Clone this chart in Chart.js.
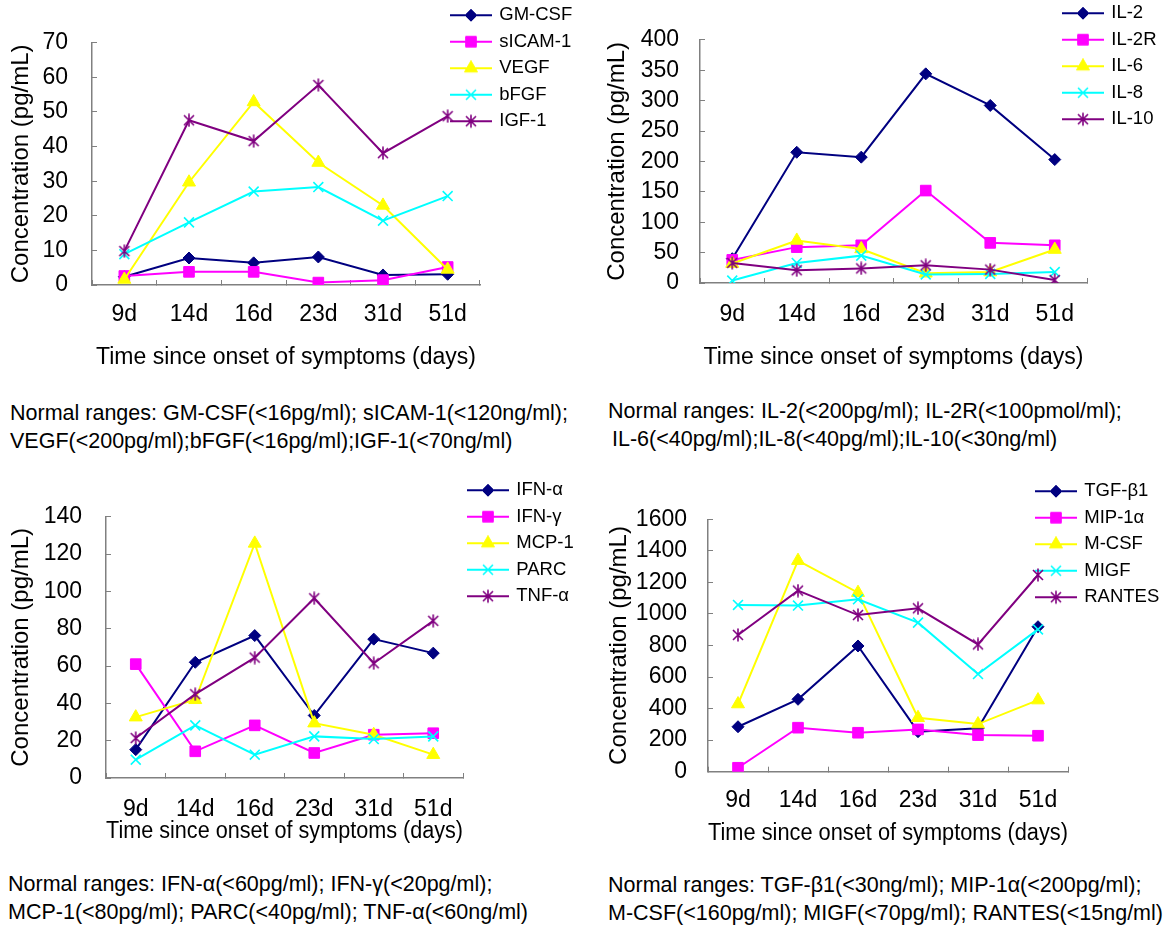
<!DOCTYPE html>
<html>
<head>
<meta charset="utf-8">
<script src="https://cdn.jsdelivr.net/npm/chart.js@4.4.0/dist/chart.umd.min.js"></script>
<style>
  body { margin: 0; background: #fff; }
  #page { position: relative; width: 1164px; height: 926px; overflow: hidden; font-family: 'Liberation Sans', Arial, sans-serif; }
  canvas { position: absolute; }
  .note { position: absolute; font-size: 21.5px; line-height: 28px; white-space: nowrap; color: #000; }
</style>
</head>
<body>
<div id="page">
  <canvas id="chart-growth" width="575" height="380" style="left:0;top:0"></canvas>
  <canvas id="chart-il" width="584" height="380" style="left:580px;top:0"></canvas>
  <canvas id="chart-ifn" width="575" height="380" style="left:0;top:470px"></canvas>
  <canvas id="chart-chemo" width="584" height="380" style="left:580px;top:470px"></canvas>

  <div class="note" style="left:10px;top:399px">Normal ranges: GM-CSF(&lt;16pg/ml); sICAM-1(&lt;120ng/ml);<br>VEGF(&lt;200pg/ml);bFGF(&lt;16pg/ml);IGF-1(&lt;70ng/ml)</div>
  <div class="note" style="left:608px;top:397px">Normal ranges: IL-2(&lt;200pg/ml); IL-2R(&lt;100pmol/ml);<br><span style="padding-left:4px">IL-6(&lt;40pg/ml);IL-8(&lt;40pg/ml);IL-10(&lt;30ng/ml)</span></div>
  <div class="note" style="left:8px;top:870px">Normal ranges: IFN-α(&lt;60pg/ml); IFN-γ(&lt;20pg/ml);<br>MCP-1(&lt;80pg/ml); PARC(&lt;40pg/ml); TNF-α(&lt;60ng/ml)</div>
  <div class="note" style="left:608px;top:871px">Normal ranges: TGF-β1(&lt;30ng/ml); MIP-1α(&lt;200pg/ml);<br>M-CSF(&lt;160pg/ml); MIGF(&lt;70pg/ml); RANTES(&lt;15ng/ml)</div>
</div>

<script>
const days = ['9d', '14d', '16d', '23d', '31d', '51d'];

// top left: growth factors
const growthNames = ['GM-CSF', 'sICAM-1', 'VEGF', 'bFGF', 'IGF-1'];
const gmCsf = [2.4, 7.8, 6.4, 8.1, 2.9, 3.1];
const sIcam1 = [2.6, 3.8, 3.8, 0.7, 1.4, 5.2];
const vegf = [1.6, 29.7, 52.9, 35.4, 23.0, 4.5];
const bFgf = [8.9, 18.1, 27.0, 28.3, 18.6, 25.7];
const igf1 = [9.8, 47.6, 41.6, 57.8, 38.1, 48.8];

// top right: interleukins
const ilNames = ['IL-2', 'IL-2R', 'IL-6', 'IL-8', 'IL-10'];
const il2 = [40, 215, 207, 344, 292, 203];
const il2r = [38, 59, 62, 152, 66, 62];
const il6 = [32, 70, 56, 16, 18, 55];
const il8 = [4, 33, 45, 14, 15, 18];
const il10 = [33, 21, 24, 29, 22, 5];

// bottom left: interferons etc.
const ifnNames = ['IFN-α', 'IFN-γ', 'MCP-1', 'PARC', 'TNF-α'];
const ifnA = [15.2, 62.0, 76.3, 33.5, 74.4, 66.9];
const ifnG = [61.0, 14.3, 28.2, 13.4, 23.2, 24.0];
const mcp1 = [32.6, 41.9, 125.7, 29.4, 23.2, 12.5];
const parc = [9.8, 28.2, 12.5, 22.3, 20.9, 22.3];
const tnfA = [21.4, 44.9, 64.5, 96.3, 61.5, 84.2];

// bottom right: TGF / chemokines
const chemoNames = ['TGF-β1', 'MIP-1α', 'M-CSF', 'MIGF', 'RANTES'];
const tgfB1 = [285, 459, 797, 254, 275, 919];
const mip1a = [25, 279, 247, 268, 232, 228];
const mCsf = [429, 1338, 1135, 342, 302, 454];
const migf = [1057, 1053, 1093, 945, 619, 902];
const rantes = [867, 1148, 993, 1036, 807, 1247];

const FONT = "'Liberation Sans', Arial, sans-serif";
const AXIS_GREY = '#808080';

Chart.defaults.font.family = FONT;
Chart.defaults.color = '#000';

// asterisk marker (x with a vertical bar), like the Excel one
function asteriskMark(color) {
  const c = document.createElement('canvas');
  c.width = 14;
  c.height = 14;
  const ctx = c.getContext('2d');
  ctx.strokeStyle = color;
  ctx.lineWidth = 1.6;
  ctx.beginPath();
  ctx.moveTo(2, 2); ctx.lineTo(12, 12);
  ctx.moveTo(12, 2); ctx.lineTo(2, 12);
  ctx.moveTo(7, 0.5); ctx.lineTo(7, 13.5);
  ctx.stroke();
  return c;
}

const seriesStyles = [
  { color: '#000080', point: 'rectRot', radius: 6, border: 1 },
  { color: '#FF00FF', point: 'rect', radius: 7.5, border: 1 },
  { color: '#FFFF00', point: 'triangle', radius: 7.5, border: 1 },
  { color: '#00FFFF', point: 'crossRot', radius: 7, border: 1.6 },
  { color: '#800080', point: asteriskMark('#800080'), radius: 7, border: 1.6 }
];

// legend symbol: short line with the marker in the middle
function legendIcon(ds) {
  const c = document.createElement('canvas');
  c.width = 42;
  c.height = 16;
  const ctx = c.getContext('2d');
  ctx.strokeStyle = ds.borderColor;
  ctx.lineWidth = 2;
  ctx.beginPath();
  ctx.moveTo(0, 8);
  ctx.lineTo(42, 8);
  ctx.stroke();
  ctx.fillStyle = ds.pointBackgroundColor;
  ctx.strokeStyle = ds.pointBorderColor;
  ctx.lineWidth = ds.pointBorderWidth;
  Chart.helpers.drawPoint(ctx, {
    pointStyle: ds.pointStyle,
    radius: ds.pointRadius,
    rotation: 0,
    borderWidth: ds.pointBorderWidth
  }, 21, 8);
  return c;
}

// move the legend to its spot in the top right corner (it overlaps the plot there)
const pinLegend = {
  id: 'pinLegend',
  afterLayout(chart, args, opts) {
    const lg = chart.legend;
    if (!lg) return;
    const h = lg.height;
    lg.left = opts.left;
    lg.width = 160;
    lg.right = opts.left + 160;
    lg.top = opts.top;
    lg.bottom = opts.top + h;
  }
};

function makePanel(canvasId, names, series, yMax, yStep, box) {
  const datasets = series.map((values, i) => {
    const s = seriesStyles[i];
    return {
      label: names[i],
      data: values,
      borderColor: s.color,
      backgroundColor: s.color,
      borderWidth: 2,
      pointStyle: s.point,
      pointRadius: s.radius,
      pointBackgroundColor: s.color,
      pointBorderColor: s.color,
      pointBorderWidth: s.border,
      tension: 0,
      order: series.length - i   // later series drawn on top
    };
  });

  return new Chart(document.getElementById(canvasId), {
    type: 'line',
    data: { labels: days, datasets },
    plugins: [pinLegend],
    options: {
      responsive: false,
      animation: false,
      events: [],
      layout: {
        padding: { left: 0, top: box.padTop, right: box.padRight, bottom: box.padBottom }
      },
      scales: {
        x: {
          type: 'category',
          offset: true,
          grid: { offset: true, drawOnChartArea: false, tickLength: -5, color: AXIS_GREY },
          border: { color: AXIS_GREY, width: 1.5 },
          ticks: { font: { size: 23 }, padding: box.xTickPad, autoSkip: false, maxRotation: 0 },
          title: {
            display: true,
            text: 'Time since onset of symptoms (days)',
            font: { size: 23 },
            padding: { top: 0, bottom: 0 }
          },
          afterFit: (scale) => { scale.height = box.xHeight; }
        },
        y: {
          min: 0,
          max: yMax,
          grid: { drawOnChartArea: false, tickLength: -5, color: AXIS_GREY },
          border: { color: AXIS_GREY, width: 1.5 },
          ticks: {
            stepSize: yStep,
            autoSkip: false,
            font: { size: 23 },
            padding: box.yTickPad,
            callback: (value) => String(value)
          },
          title: {
            display: true,
            text: 'Concentration (pg/mL)',
            font: { size: 24 },
            padding: { top: box.yTitlePad, bottom: 0 }
          },
          afterFit: (scale) => { scale.width = box.yWidth; }
        }
      },
      plugins: {
        tooltip: { enabled: false },
        pinLegend: { left: box.legendLeft, top: box.legendTop },
        legend: {
          position: 'right',
          align: 'start',
          maxWidth: 1,
          labels: {
            usePointStyle: true,
            pointStyleWidth: 38,
            padding: 8,
            color: '#000',
            font: { size: 18.5 },
            generateLabels(chart) {
              const items = Chart.defaults.plugins.legend.labels.generateLabels(chart);
              items.sort((a, b) => a.datasetIndex - b.datasetIndex);
              items.forEach(item => {
                item.pointStyle = legendIcon(chart.data.datasets[item.datasetIndex]);
              });
              return items;
            }
          }
        }
      }
    }
  });
}

makePanel('chart-growth', growthNames, [gmCsf, sIcam1, vegf, bFgf, igf1], 70, 10, {
  padTop: 40, padBottom: 8.5, padRight: 94, yWidth: 92, yTitlePad: 6.6, yTickPad: 29,
  xTickPad: 20.6, xHeight: 86.5, legendLeft: 444, legendTop: -2
});

makePanel('chart-il', ilNames, [il2, il2r, il6, il8, il10], 400, 50, {
  padTop: 39.3, padBottom: 8.5, padRight: 76, yWidth: 120, yTitlePad: 22.6, yTickPad: 26,
  xTickPad: 22.9, xHeight: 88.5, legendLeft: 476, legendTop: -4
});

makePanel('chart-ifn', ifnNames, [ifnA, ifnG, mcp1, parc, tnfA], 140, 20, {
  padTop: 46.7, padBottom: 4.2, padRight: 111, yWidth: 106, yTitlePad: 6.6, yTickPad: 29,
  xTickPad: 23.2, xHeight: 67.8, legendLeft: 461, legendTop: 3
});

makePanel('chart-chemo', chemoNames, [tgfB1, mip1a, mCsf, migf, rantes], 1600, 200, {
  padTop: 49.3, padBottom: 2.3, padRight: 95, yWidth: 128, yTitlePad: 25.1, yTickPad: 26,
  xTickPad: 20.5, xHeight: 76, legendLeft: 449, legendTop: 4
});
</script>
</body>
</html>
